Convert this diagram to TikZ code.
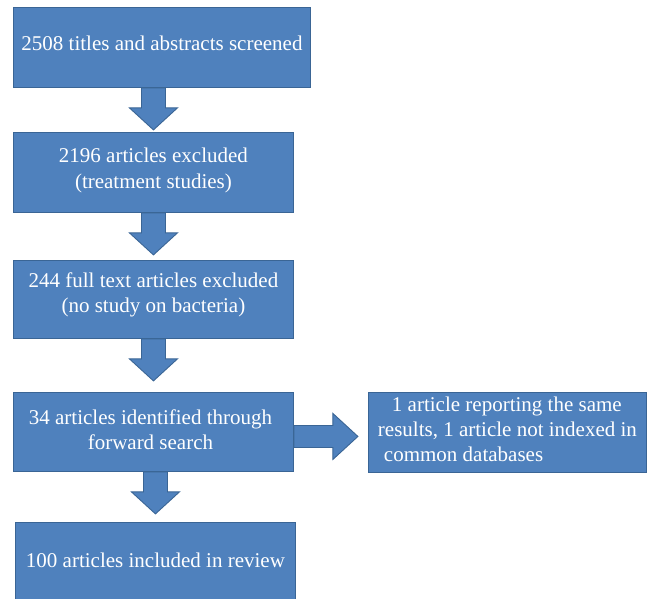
\documentclass[tikz,border=0pt]{standalone}
\usepackage{fontspec}
\setmainfont{Liberation Serif}
\definecolor{boxfill}{HTML}{4F81BD}
\definecolor{boxline}{HTML}{3A6595}
\begin{document}
\begin{tikzpicture}[x=1pt,y=-1pt,
  box/.style={draw=boxline, line width=0.9pt, fill=boxfill, anchor=north west, inner sep=0pt},
  txt/.style={text=white, inner sep=0pt, align=center, font=\fontsize{21}{25}\selectfont},
  blockarrow/.style={draw=boxline, line width=0.9pt, fill=boxfill, line join=miter}]
\useasboundingbox (0,0) rectangle (648,599);
\node[box, minimum width=297pt, minimum height=80pt] (b1) at (13,7) {};
\node[box, minimum width=280pt, minimum height=80pt] (b2) at (13,132) {};
\node[box, minimum width=280pt, minimum height=78pt] (b3) at (13,260) {};
\node[box, minimum width=280pt, minimum height=79pt] (b4) at (13,392) {};
\node[box, minimum width=280pt, minimum height=80pt] (b5) at (15,522) {};
\node[box, minimum width=278pt, minimum height=80pt] (r1) at (368,392) {};
\node[txt, yshift=4pt] (t1) at (b1.center) {2508 titles and abstracts screened};
\node[txt, yshift=2pt] (t2) at (b2.center) {2196 articles excluded\\(treatment studies)};
\node[txt, yshift=5pt] (t3) at (b3.center) {244 full text articles excluded\\(no study on bacteria)};
\node[txt, yshift=2pt, xshift=-3pt] (t4) at (b4.center) {34 articles identified through\\forward search};
\node[txt, yshift=2pt] (t5) at (b5.center) {100 articles included in review};
\node[txt, yshift=3pt, align=left] (t6) at (r1.center)
  {\hspace*{14pt}1 article reporting the same\\results, 1 article not indexed in\\\hspace*{6pt}common databases};
% down arrows
\foreach \a/\b in {b1/b2, b2/b3, b3/b4, b4/b5}{
  \draw[blockarrow] (\a.south -| \b.north) ++(-12,0) -- ++(0,20) -- ++(-12,0) -- ++(24,22)
    -- ++(24,-22) -- ++(-12,0) -- ++(0,-20) -- cycle;
}
% right arrow
\draw[blockarrow] (b4.east) ++(0,-6.5) -- ++(39,0) -- ++(0,-12) -- ++(25,23)
  -- ++(-25,23) -- ++(0,-12) -- ++(-39,0) -- cycle;
\end{tikzpicture}
\end{document}
